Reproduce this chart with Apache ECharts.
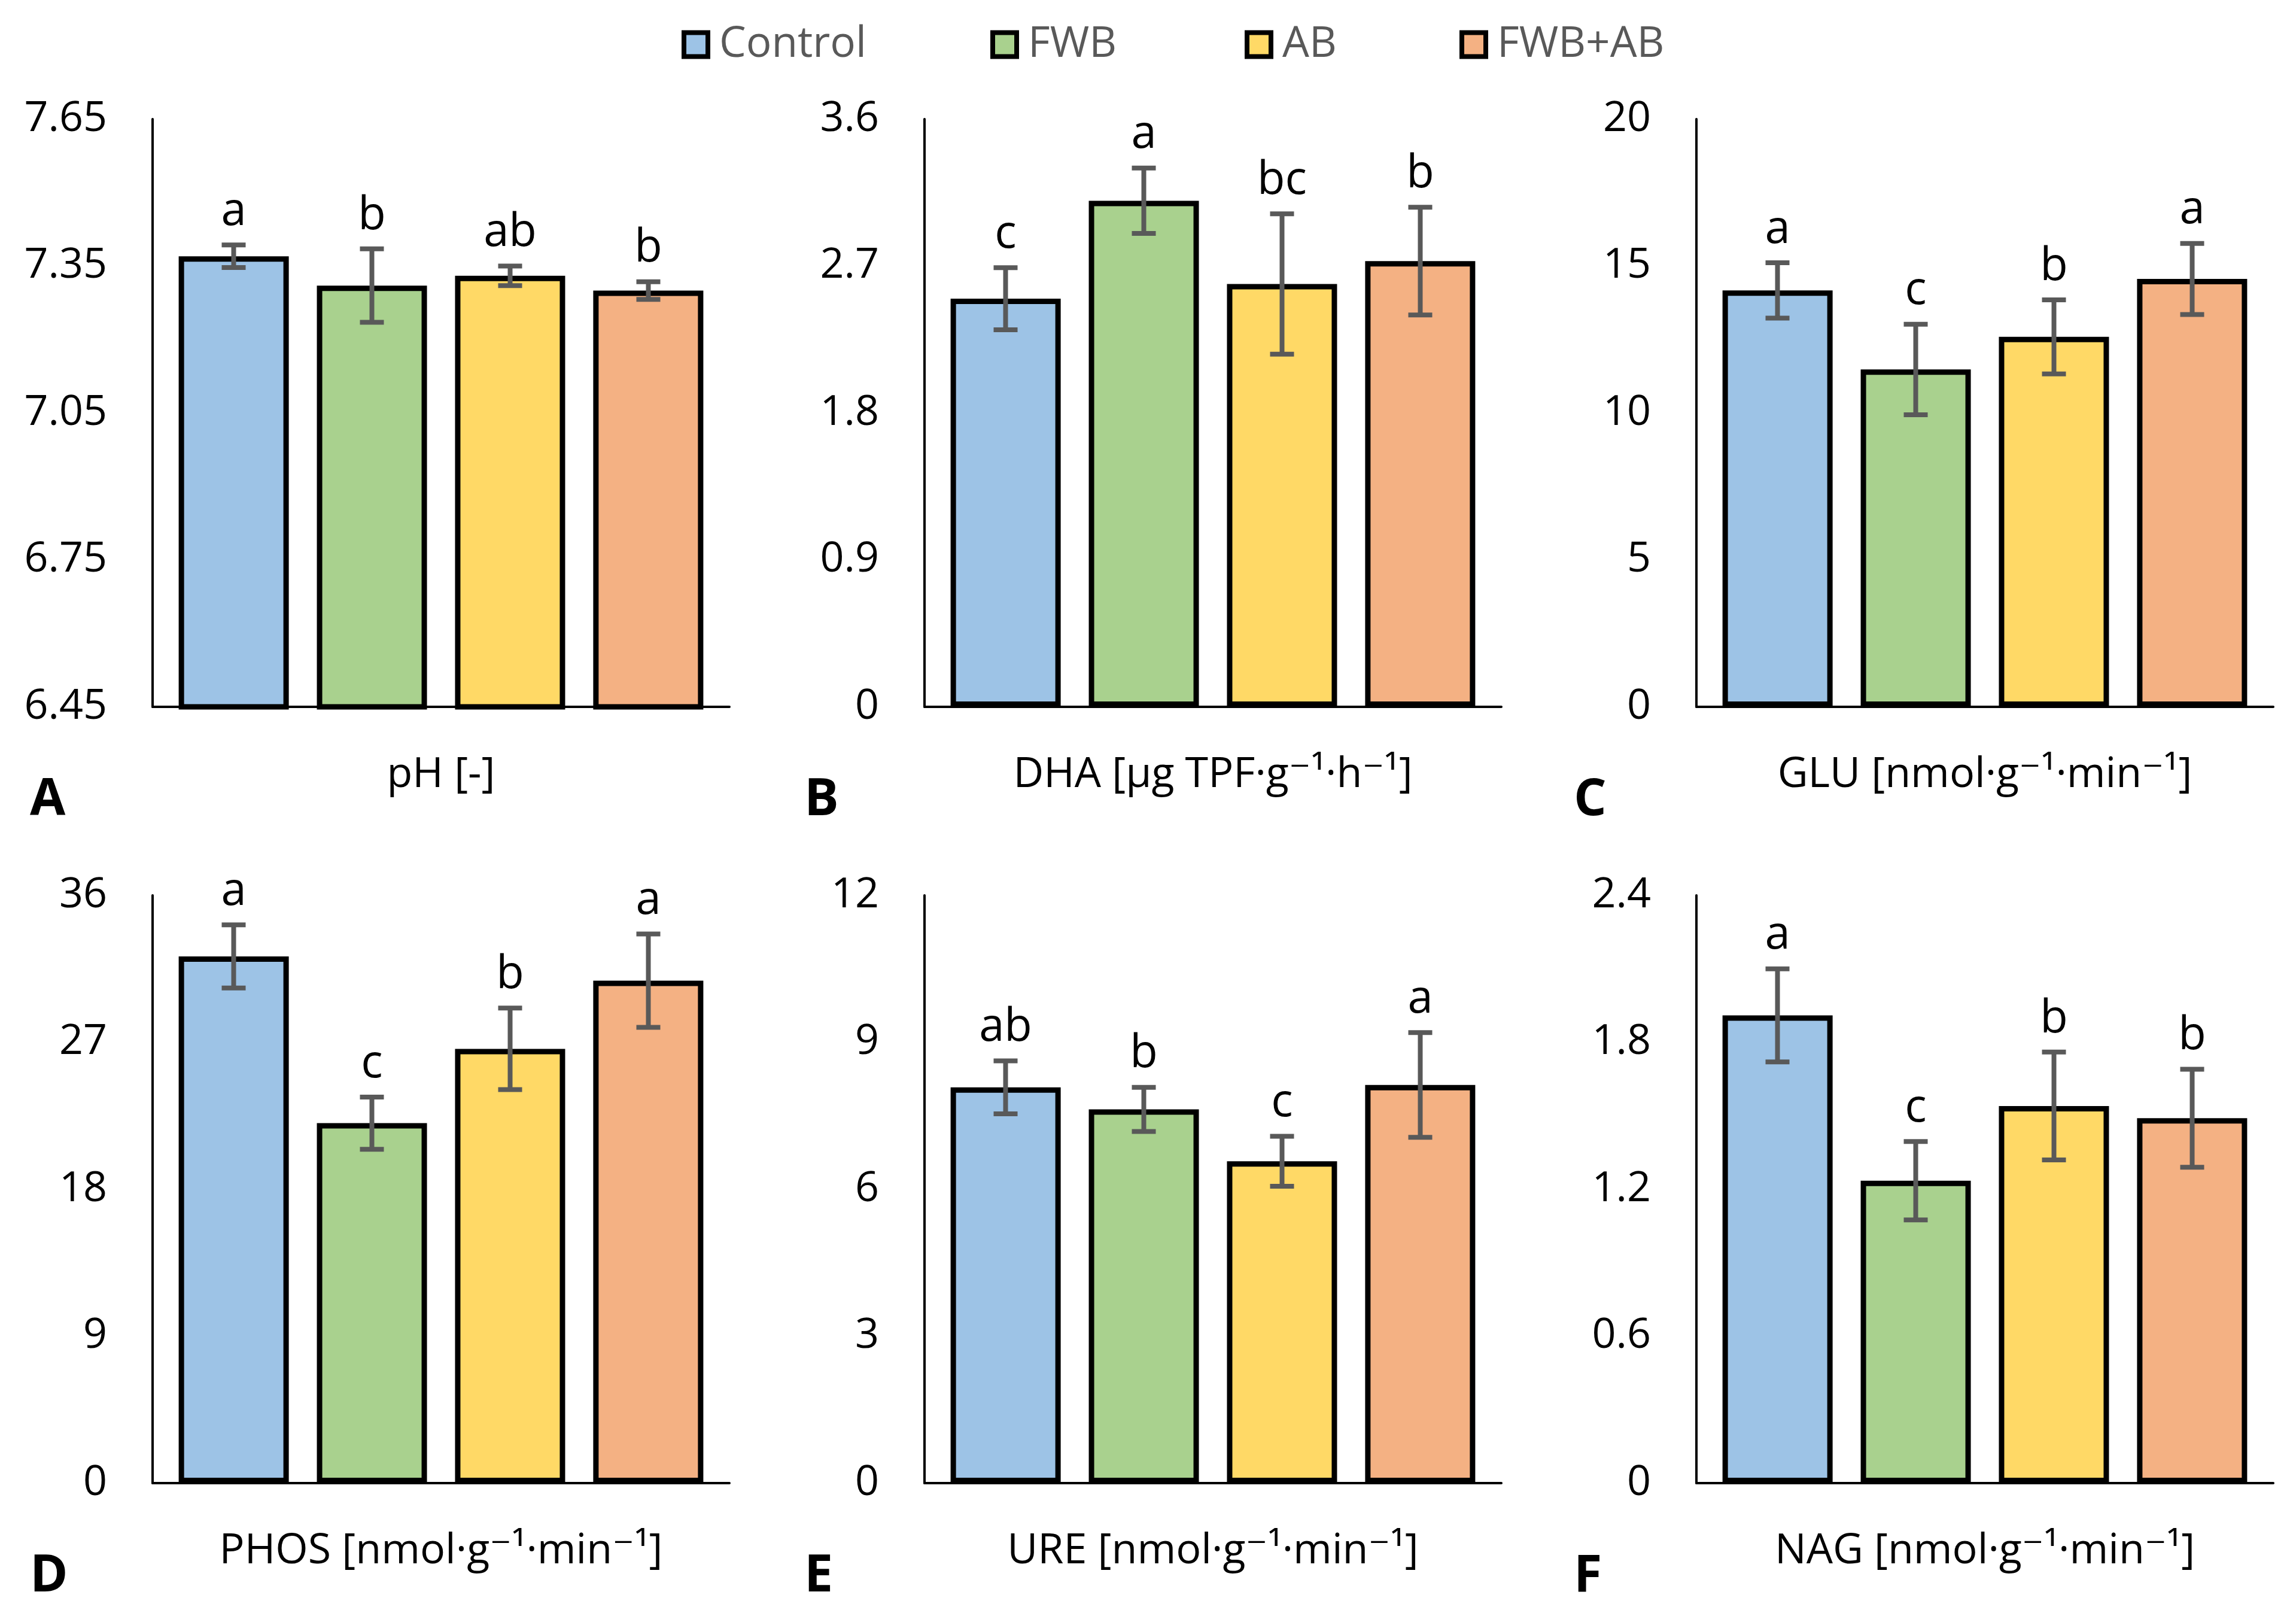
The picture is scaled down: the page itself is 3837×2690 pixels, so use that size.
<!DOCTYPE html>
<html>
<head>
<meta charset="utf-8">
<script src="https://cdn.jsdelivr.net/npm/echarts@6/dist/echarts.min.js"></script>
<style>
  html, body { margin: 0; padding: 0; background: #fff; }
  #chart { width: 3837px; height: 2690px; }
</style>
</head>
<body>
<div id="chart"></div>
<script>
// ---- data ----
const treatments = ['Control', 'FWB', 'AB', 'FWB+AB'];
const panelCategories = [
  'pH [-]',
  'DHA [µg TPF·g⁻¹·h⁻¹]',
  'GLU [nmol·g⁻¹·min⁻¹]',
  'PHOS [nmol·g⁻¹·min⁻¹]',
  'URE [nmol·g⁻¹·min⁻¹]',
  'NAG [nmol·g⁻¹·min⁻¹]'
];
const panelLetters = ['A', 'B', 'C', 'D', 'E', 'F'];

// values per treatment, panels in order pH, DHA, GLU, PHOS, URE, NAG
const controlValues = [7.37, 2.50, 14.17, 32.26, 8.08, 1.91];
const fwbValues     = [7.31, 3.10, 11.48, 22.05, 7.63, 1.235];
const abValues      = [7.33, 2.59, 12.59, 26.60, 6.57, 1.54];
const fwbAbValues   = [7.30, 2.73, 14.56, 30.78, 8.13, 1.49];

const controlErrors = [0.023, 0.19, 0.94, 1.93, 0.54, 0.19];
const fwbErrors     = [0.075, 0.20, 1.54, 1.60, 0.45, 0.16];
const abErrors      = [0.020, 0.43, 1.26, 2.50, 0.51, 0.22];
const fwbAbErrors   = [0.018, 0.33, 1.21, 2.86, 1.07, 0.20];

const controlLetters = ['a', 'c', 'a', 'a', 'ab', 'a'];
const fwbLetters     = ['b', 'a', 'c', 'c', 'b', 'c'];
const abLetters      = ['ab', 'bc', 'b', 'b', 'c', 'b'];
const fwbAbLetters   = ['b', 'b', 'a', 'a', 'a', 'b'];

const yMins = [6.45, 0, 0, 0, 0, 0];
const yMaxs = [7.65, 3.6, 20, 36, 12, 2.4];
const yTicks = [
  [6.45, 6.75, 7.05, 7.35, 7.65],
  [0, 0.9, 1.8, 2.7, 3.6],
  [0, 5, 10, 15, 20],
  [0, 9, 18, 27, 36],
  [0, 3, 6, 9, 12],
  [0, 0.6, 1.2, 1.8, 2.4]
];

// ---- styling / layout ----
const values = [controlValues, fwbValues, abValues, fwbAbValues];
const errors = [controlErrors, fwbErrors, abErrors, fwbAbErrors];
const letters = [controlLetters, fwbLetters, abLetters, fwbAbLetters];
const colors = ['#9DC3E6', '#A9D18E', '#FFD966', '#F4B183'];
const FONT = '"Open Sans", "DejaVu Sans", sans-serif';
const BAR_W = 184, BAR_GAP = 47;
const colLeft = [255, 1545, 2835];
const rowTop = [199, 1496];
const GRID_W = 964, GRID_H = 982;
const legendLefts = [1134, 1650, 2075, 2434];

const grids = [], xAxes = [], yAxes = [], series = [], titles = [];
for (let p = 0; p < 6; p++) {
  const c = p % 3, r = Math.floor(p / 3);
  grids.push({ left: colLeft[c], top: rowTop[r], width: GRID_W, height: GRID_H });
  xAxes.push({
    type: 'category', gridIndex: p, data: [panelCategories[p]],
    axisLine: { show: true, lineStyle: { color: '#000', width: 4 } },
    axisTick: { show: false },
    axisLabel: { margin: 79, fontSize: 70, fontFamily: FONT, color: '#000' }
  });
  yAxes.push({
    type: 'value', gridIndex: p, min: yMins[p], max: yMaxs[p],
    axisLine: { show: true, lineStyle: { color: '#000', width: 4 } },
    axisTick: { show: false },
    splitLine: { show: false },
    axisLabel: {
      customValues: yTicks[p],
      margin: 76, fontSize: 70, fontFamily: FONT, color: '#000',
      formatter: v => (p === 0 ? v.toFixed(2) : String(Math.round(v * 100) / 100))
    }
  });
  titles.push({
    text: panelLetters[p], left: [50, 1344, 2630][c], top: [1294, 2591][r], padding: 0,
    textStyle: { fontSize: 86, fontWeight: 'bold', fontFamily: FONT, color: '#000' }
  });
  for (let t = 0; t < 4; t++) {
    series.push({
      type: 'bar', name: treatments[t], xAxisIndex: p, yAxisIndex: p,
      data: [values[t][p]],
      barWidth: BAR_W, barGap: (BAR_GAP / BAR_W * 100).toFixed(1) + '%',
      itemStyle: { color: colors[t], borderColor: '#000', borderWidth: 9 },
      emphasis: { disabled: true }, silent: true
    });
  }
  series.push({
    type: 'custom', xAxisIndex: p, yAxisIndex: p, z: 10, silent: true,
    data: treatments.map((_, t) => [0, values[t][p], errors[t][p], t]),
    renderItem: (params, api) => {
      const t = api.value(3), v = api.value(1), e = api.value(2);
      const x = api.coord([0, v])[0] + (t - 1.5) * (BAR_W + BAR_GAP);
      const yHi = api.coord([0, v + e])[1];
      const yLo = api.coord([0, v - e])[1];
      const ls = { stroke: '#595959', lineWidth: 8 };
      return {
        type: 'group', children: [
          { type: 'line', shape: { x1: x, y1: yHi, x2: x, y2: yLo }, style: ls },
          { type: 'line', shape: { x1: x - 20, y1: yHi, x2: x + 20, y2: yHi }, style: ls },
          { type: 'line', shape: { x1: x - 20, y1: yLo, x2: x + 20, y2: yLo }, style: ls },
          { type: 'text', x: x, y: yHi - 17, style: {
              text: letters[t][p], fill: '#000', fontSize: 76, fontFamily: FONT,
              align: 'center', verticalAlign: 'bottom' } }
        ]
      };
    }
  });
}

const legends = treatments.map((name, t) => ({
  data: [name], left: legendLefts[t], top: 34, orient: 'horizontal',
  itemWidth: 40, itemHeight: 40, selectedMode: false,
  icon: 'rect',
  itemStyle: { borderColor: '#000', borderWidth: 8 },
  textStyle: { fontSize: 71, fontFamily: FONT, color: '#595959', padding: [0, 0, 0, 14] }
}));

const chart = echarts.init(document.getElementById('chart'), null, { renderer: 'canvas' });
chart.setOption({
  animation: false,
  backgroundColor: '#fff',
  title: titles,
  legend: legends,
  grid: grids, xAxis: xAxes, yAxis: yAxes, series: series
});
</script>
</body>
</html>
